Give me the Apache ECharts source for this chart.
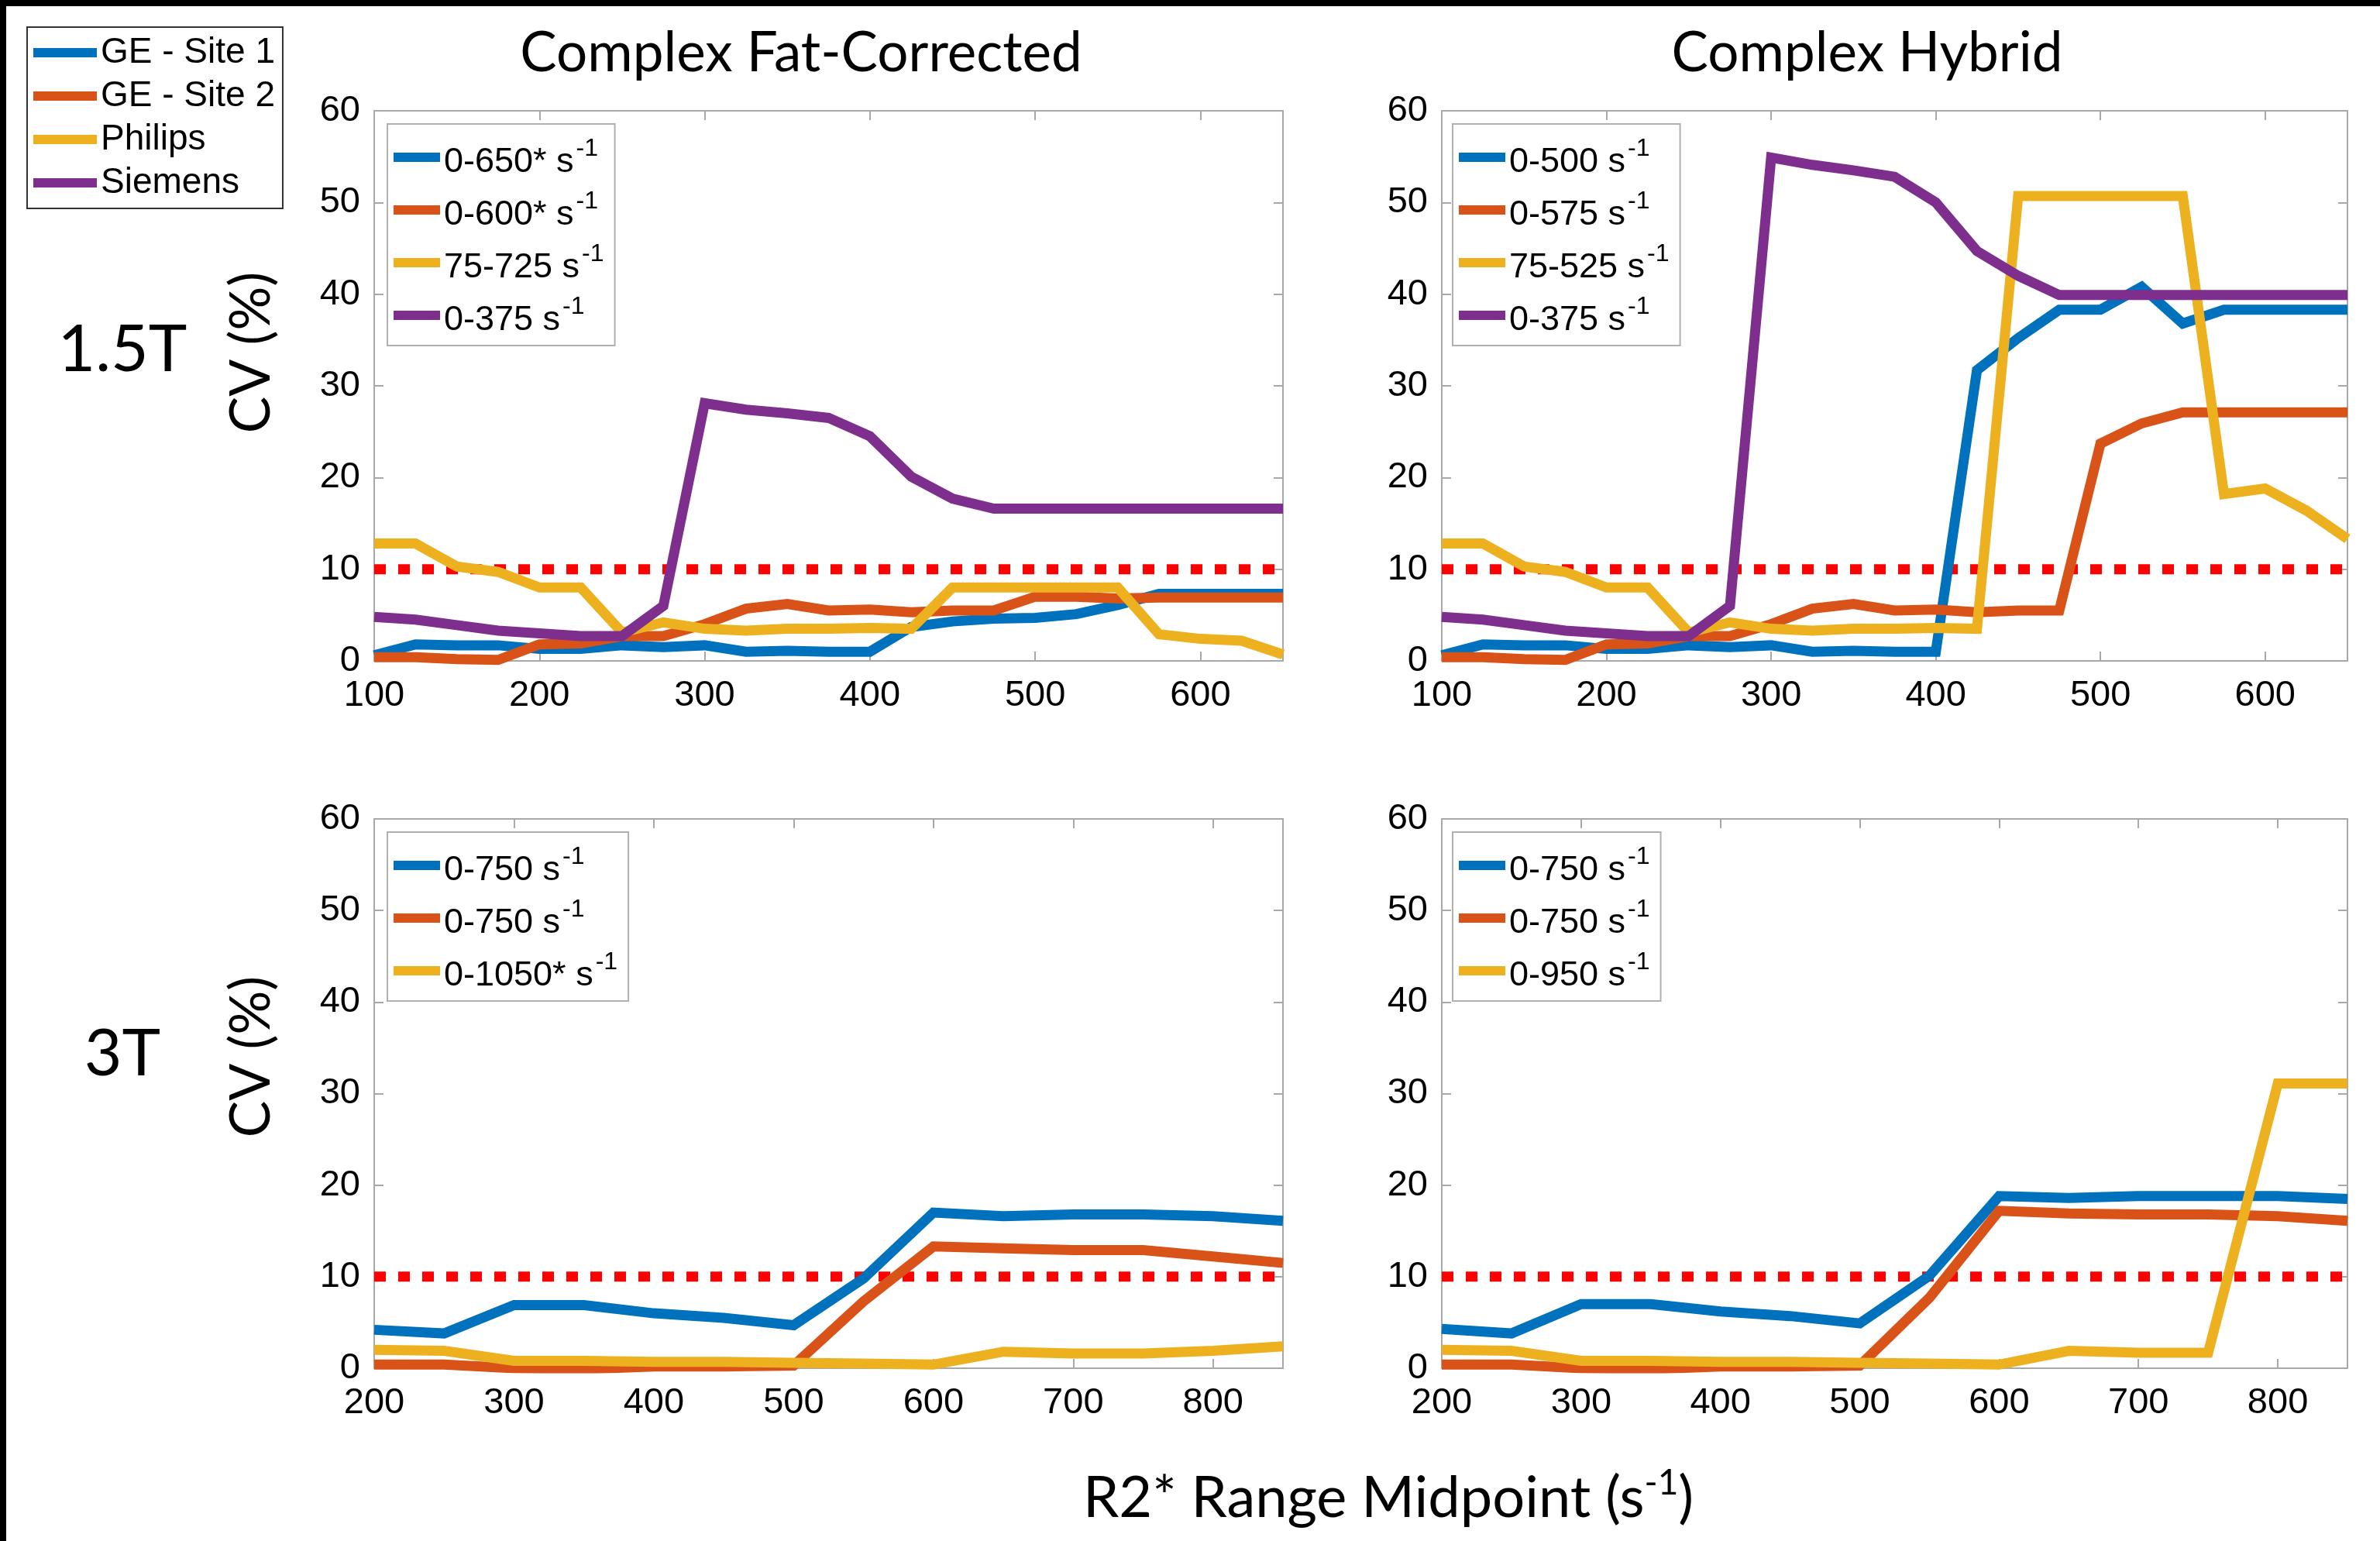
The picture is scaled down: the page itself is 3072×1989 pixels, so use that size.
<!DOCTYPE html>
<html>
<head>
<meta charset="utf-8">
<script src="https://cdn.jsdelivr.net/npm/echarts@6/dist/echarts.min.js"></script>
<style>
html,body{margin:0;padding:0;background:#fff;}
#c{width:3072px;height:1989px;}
</style>
</head>
<body>
<div id="c"></div>
<script>
// ---------- data ----------
const vendors = ['GE - Site 1', 'GE - Site 2', 'Philips', 'Siemens'];
const colors = ['#0072BD', '#D95319', '#EDB120', '#7E2F8E'];
const columnTitles = ['Complex Fat-Corrected', 'Complex Hybrid'];
const rowTitles = ['1.5T', '3T'];
const threshold = 10;

const x15 = [100,125,150,175,200,225,250,275,300,325,350,375,400,425,450,475,500,525,550,575,600,625,650];
const x3 = [200,250,300,350,400,450,500,550,600,650,700,750,800,850];
const xTicks15 = [100, 650];
const xTicks3 = [200, 850];
const yTicks = [0, 60];

// 1.5T Complex Fat-Corrected
const fc15_ge1 = [0.6,1.8,1.7,1.7,1.3,1.3,1.7,1.5,1.7,1.0,1.1,1.0,1.0,3.7,4.3,4.6,4.7,5.1,6.1,7.3,7.3,7.3,7.3];
const fc15_ge2 = [0.4,0.4,0.2,0.1,1.8,1.9,2.7,2.7,4.0,5.7,6.2,5.5,5.6,5.3,5.5,5.5,7.0,7.0,6.8,6.9,6.9,6.9,6.9];
const fc15_phi = [12.8,12.8,10.3,9.7,8.0,8.0,3.1,4.2,3.5,3.3,3.5,3.5,3.6,3.5,8.0,8.0,8.0,8.0,8.0,2.9,2.4,2.2,0.7];
const fc15_sie = [4.8,4.5,3.9,3.3,3.0,2.7,2.7,6.0,28.1,27.4,27.0,26.5,24.5,20.1,17.7,16.6,16.6,16.6,16.6,16.6,16.6,16.6,16.6];
const fc15_labels = ['0-650*', '0-600*', '75-725', '0-375'];

// 1.5T Complex Hybrid
const hy15_ge1 = [0.6,1.8,1.7,1.7,1.3,1.3,1.7,1.5,1.7,1.0,1.1,1.0,1.0,31.7,35.2,38.3,38.3,40.8,36.8,38.3,38.3,38.3,38.3];
const hy15_ge2 = [0.4,0.4,0.2,0.1,1.8,1.9,2.7,2.7,4.0,5.7,6.2,5.5,5.6,5.3,5.5,5.5,23.7,25.9,27.1,27.1,27.1,27.1,27.1];
const hy15_phi = [12.8,12.8,10.3,9.7,8.0,8.0,3.1,4.2,3.5,3.3,3.5,3.5,3.6,3.5,50.7,50.7,50.7,50.7,50.7,18.2,18.8,16.4,13.3];
const hy15_sie = [4.8,4.5,3.9,3.3,3.0,2.7,2.7,6.0,54.9,54.1,53.5,52.8,50.0,44.7,42.0,39.9,39.9,39.9,39.9,39.9,39.9,39.9,39.9];
const hy15_labels = ['0-500', '0-575', '75-525', '0-375'];

// 3T Complex Fat-Corrected
const fc3_ge1 = [4.2,3.8,6.9,6.9,6.0,5.5,4.7,9.8,17.0,16.6,16.8,16.8,16.6,16.1];
const fc3_ge2 = [0.4,0.4,0.0,-0.1,0.2,0.2,0.3,7.3,13.3,13.1,12.9,12.9,12.2,11.5];
const fc3_phi = [2.0,1.9,0.8,0.8,0.7,0.7,0.6,0.5,0.4,1.8,1.6,1.6,1.9,2.4];
const fc3_labels = ['0-750', '0-750', '0-1050*'];

// 3T Complex Hybrid
const hy3_ge1 = [4.3,3.8,7.0,7.0,6.2,5.7,4.9,10.1,18.8,18.6,18.8,18.8,18.8,18.5];
const hy3_ge2 = [0.4,0.4,0.0,-0.1,0.2,0.2,0.3,7.7,17.2,16.9,16.8,16.8,16.6,16.1];
const hy3_phi = [2.0,1.9,0.8,0.8,0.7,0.7,0.6,0.5,0.4,1.9,1.7,1.7,31.1,31.1];
const hy3_labels = ['0-750', '0-750', '0-950'];

// ---------- layout ----------
const panels = [
  {x: x15, ticks: xTicks15, series: [fc15_ge1, fc15_ge2, fc15_phi, fc15_sie], labels: fc15_labels,
   grid: {left: 483, top: 143, width: 1173, height: 710}, legend: {left: 500, top: 160}},
  {x: x15, ticks: xTicks15, series: [hy15_ge1, hy15_ge2, hy15_phi, hy15_sie], labels: hy15_labels,
   grid: {left: 1861, top: 143, width: 1169, height: 710}, legend: {left: 1875, top: 160}},
  {x: x3, ticks: xTicks3, series: [fc3_ge1, fc3_ge2, fc3_phi], labels: fc3_labels,
   grid: {left: 483, top: 1057, width: 1173, height: 709}, legend: {left: 500, top: 1074}},
  {x: x3, ticks: xTicks3, series: [hy3_ge1, hy3_ge2, hy3_phi], labels: hy3_labels,
   grid: {left: 1861, top: 1057, width: 1169, height: 709}, legend: {left: 1875, top: 1074}}
];

const FONT = 'Liberation Sans';
const TFONT = 'Lato';
const axisGrey = '#a8a8a8';

const grids = [], xAxes = [], yAxes = [], series = [], legends = [];
const labelMap = {};

panels.forEach((p, i) => {
  grids.push(Object.assign({containLabel: false}, p.grid));
  const common = {
    type: 'value', gridIndex: i, splitLine: {show: false},
    axisLine: {show: true, onZero: false, lineStyle: {color: axisGrey, width: 2}},
    axisTick: {show: true, inside: true, length: 12, lineStyle: {color: axisGrey, width: 2}}
  };
  xAxes.push(Object.assign({}, common, {
    position: 'bottom', min: p.ticks[0], max: p.ticks[1], interval: 100,
    axisLabel: {show: true, color: '#000', fontFamily: FONT, fontSize: 47, margin: 22,
      showMaxLabel: false}
  }));
  xAxes.push(Object.assign({}, common, {
    position: 'top', min: p.ticks[0], max: p.ticks[1], interval: 100, axisLabel: {show: false}
  }));
  yAxes.push(Object.assign({}, common, {
    position: 'left', min: yTicks[0], max: yTicks[1], interval: 10,
    axisLabel: {show: true, color: '#000', fontFamily: FONT, fontSize: 47, margin: 18}
  }));
  yAxes.push(Object.assign({}, common, {
    position: 'right', min: yTicks[0], max: yTicks[1], interval: 10, axisLabel: {show: false}
  }));

  const names = [];
  p.series.forEach((vals, k) => {
    const nm = 'p' + i + 's' + k;
    names.push(nm);
    labelMap[nm] = p.labels[k];
    series.push({
      name: nm, type: 'line', xAxisIndex: 2 * i, yAxisIndex: 2 * i,
      data: p.x.map((xv, j) => [xv, vals[j]]),
      symbol: 'none', smooth: false, clip: true,
      lineStyle: {color: colors[k], width: 13, cap: 'butt', join: 'miter'},
      itemStyle: {color: colors[k]}, z: 3 + k
    });
  });
  // threshold line
  series.push({
    name: 'thr' + i, type: 'line', xAxisIndex: 2 * i, yAxisIndex: 2 * i,
    data: [[p.ticks[0], threshold], [p.ticks[1], threshold]],
    symbol: 'none', silent: true, z: 2,
    lineStyle: {color: '#ff0000', width: 13, type: [15, 16], cap: 'butt'}
  });

  legends.push({
    data: names, orient: 'vertical', left: p.legend.left, top: p.legend.top,
    selectedMode: false, icon: 'rect', itemWidth: 60, itemHeight: 12, itemGap: 12,
    backgroundColor: '#fff', borderColor: '#b0b0b0', borderWidth: 2, borderRadius: 0,
    padding: [16, 14, 10, 8],
    formatter: (n) => '{b|' + labelMap[n] + ' s}{s|-1}',
    textStyle: {
      color: '#000', fontFamily: FONT, fontSize: 45,
      rich: {
        b: {color: '#000', fontFamily: FONT, fontSize: 45, verticalAlign: 'bottom', lineHeight: 58},
        s: {color: '#000', fontFamily: FONT, fontSize: 32, verticalAlign: 'bottom', lineHeight: 58, padding: [0, 0, 24, 3]}
      }
    }
  });
});

// vendor legend (dummy series carry names/colors)
vendors.forEach((v, k) => {
  series.push({name: v, type: 'line', xAxisIndex: 0, yAxisIndex: 0, data: [],
    symbol: 'none', lineStyle: {color: colors[k], width: 12}, itemStyle: {color: colors[k]}});
});
legends.push({
  data: vendors, orient: 'vertical', left: 35, top: 35, selectedMode: false,
  icon: 'rect', itemWidth: 82, itemHeight: 12, itemGap: 10,
  borderColor: '#333', borderWidth: 2, borderRadius: 0, padding: [10, 10, 10, 8],
  textStyle: {color: '#000', fontFamily: FONT, fontSize: 46}
});

const graphics = [
  {type: 'rect', left: 0, top: 0, shape: {x: 0, y: 0, width: 3072, height: 1989},
   style: {fill: 'none', stroke: '#000', lineWidth: 8}, silent: true, z: 100},
  {type: 'text', x: 1034, y: 69, style: {text: columnTitles[0], font: '71px Lato', fill: '#000', align: 'center', verticalAlign: 'middle'}},
  {type: 'text', x: 2410, y: 69, style: {text: columnTitles[1], font: '71px Lato', fill: '#000', align: 'center', verticalAlign: 'middle'}},
  {type: 'text', x: 158, y: 452, style: {text: rowTitles[0], font: '84px Lato', fill: '#000', align: 'center', verticalAlign: 'middle'}},
  {type: 'text', x: 158, y: 1361, style: {text: rowTitles[1], font: '84px Lato', fill: '#000', align: 'center', verticalAlign: 'middle'}},
  {type: 'text', x: 325, y: 455, rotation: Math.PI / 2, style: {text: 'CV (%)', font: '71px Lato', fill: '#000', align: 'center', verticalAlign: 'middle'}},
  {type: 'text', x: 325, y: 1364, rotation: Math.PI / 2, style: {text: 'CV (%)', font: '71px Lato', fill: '#000', align: 'center', verticalAlign: 'middle'}}
];

const option = {
  backgroundColor: '#fff',
  animation: false,
  title: [{
    text: '{a|R2* Range Midpoint (s}{s|-1}{a|)}',
    left: 1787, top: 1878, textAlign: 'center',
    textStyle: {fontWeight: 'normal', rich: {
      a: {fontFamily: TFONT, fontWeight: 'normal', fontSize: 74, color: '#000', verticalAlign: 'bottom', lineHeight: 88},
      s: {fontFamily: TFONT, fontWeight: 'normal', fontSize: 46, color: '#000', verticalAlign: 'bottom', lineHeight: 88, padding: [0, 0, 34, 0]}
    }}
  }],
  grid: grids, xAxis: xAxes, yAxis: yAxes, series: series, legend: legends,
  graphic: graphics
};

const chart = echarts.init(document.getElementById('c'));
chart.setOption(option);
</script>
</body>
</html>
